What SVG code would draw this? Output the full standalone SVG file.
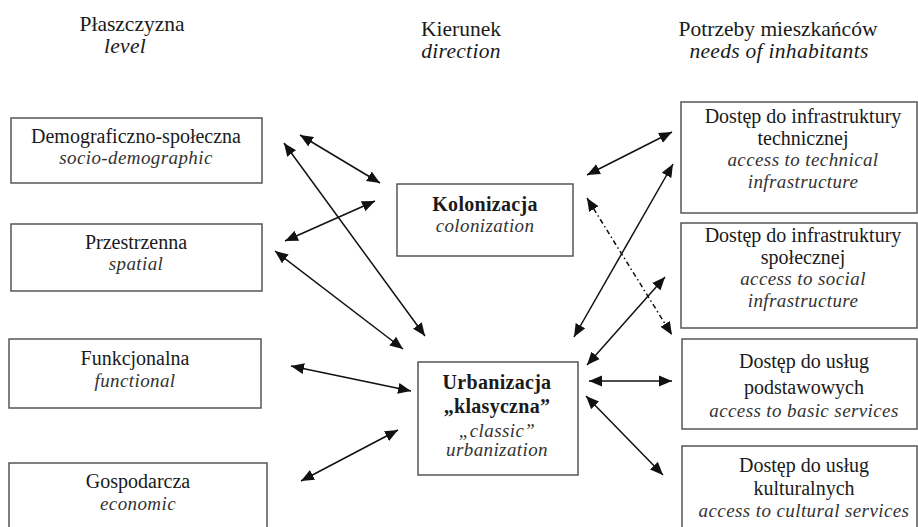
<svg xmlns="http://www.w3.org/2000/svg" width="918" height="527" viewBox="0 0 918 527">
<style>
  .box { fill: #ffffff; stroke: #555555; stroke-width: 1.5; }
  .t { font-family: "Liberation Serif", "Times New Roman", serif; font-size: 20px; fill: #1a1a1a; text-anchor: middle; }
  .i { font-family: "Liberation Serif", "Times New Roman", serif; font-size: 19px; font-style: italic; fill: #333333; text-anchor: middle; letter-spacing: 0.4px; }
  .b { font-weight: bold; letter-spacing: 0.3px; }
  .h { font-family: "Liberation Serif", "Times New Roman", serif; font-size: 21.5px; fill: #1a1a1a; text-anchor: middle; }
  .hi { font-style: italic; letter-spacing: 0.3px; }
  .c { stroke: #111111; stroke-width: 1.5; fill: none; marker-start: url(#ah); marker-end: url(#ah); }
  .dd { stroke-dasharray: 5 3 1.5 3; }
</style>
<defs>
  <marker id="ah" markerUnits="userSpaceOnUse" markerWidth="14" markerHeight="12" refX="13" refY="5.5" orient="auto-start-reverse" viewBox="0 0 14 11">
    <path d="M0,0 L13,5.5 L0,11 z" fill="#111111"/>
  </marker>
</defs>
<rect x="0" y="0" width="918" height="527" fill="#ffffff"/>

<g id="headers">
  <text class="h" x="132" y="31">Płaszczyzna</text>
  <text class="h hi" x="125" y="53">level</text>
  <text class="h" x="461" y="36">Kierunek</text>
  <text class="h hi" x="461" y="58">direction</text>
  <text class="h" x="778" y="36">Potrzeby mieszkańców</text>
  <text class="h hi" x="779" y="58">needs of inhabitants</text>
</g>

<g id="demograficzno">
  <rect class="box" x="11" y="118" width="251" height="65"/>
  <text class="t" x="136" y="143">Demograficzno-społeczna</text>
  <text class="i" x="136" y="164">socio-demographic</text>
</g>
<g id="przestrzenna">
  <rect class="box" x="11" y="224" width="251" height="67"/>
  <text class="t" x="136" y="249">Przestrzenna</text>
  <text class="i" x="136" y="270">spatial</text>
</g>
<g id="funkcjonalna">
  <rect class="box" x="9" y="339" width="252" height="69"/>
  <text class="t" x="135" y="365">Funkcjonalna</text>
  <text class="i" x="135" y="387">functional</text>
</g>
<g id="gospodarcza">
  <rect class="box" x="9" y="463" width="258" height="72"/>
  <text class="t" x="138" y="488">Gospodarcza</text>
  <text class="i" x="138" y="510">economic</text>
</g>

<g id="kolonizacja">
  <rect class="box" x="397" y="184" width="176" height="72"/>
  <text class="t b" x="485" y="210.5">Kolonizacja</text>
  <text class="i" x="485" y="231.5">colonization</text>
</g>
<g id="urbanizacja">
  <rect class="box" x="418" y="362" width="160" height="113"/>
  <text class="t b" x="497" y="389">Urbanizacja</text>
  <text class="t b" x="497" y="413">„klasyczna”</text>
  <text class="i" x="497" y="437">„classic”</text>
  <text class="i" x="497" y="456">urbanization</text>
</g>

<g id="techniczna">
  <rect class="box" x="681" y="102" width="236" height="111"/>
  <text class="t" x="803" y="123">Dostęp do infrastruktury</text>
  <text class="t" x="803" y="145">technicznej</text>
  <text class="i" x="803" y="166">access to technical</text>
  <text class="i" x="803" y="188">infrastructure</text>
</g>
<g id="spoleczna">
  <rect class="box" x="681" y="223" width="236" height="105"/>
  <text class="t" x="803" y="242">Dostęp do infrastruktury</text>
  <text class="t" x="803" y="264">społecznej</text>
  <text class="i" x="803" y="285">access to social</text>
  <text class="i" x="803" y="307">infrastructure</text>
</g>
<g id="podstawowe">
  <rect class="box" x="682" y="339" width="235" height="90"/>
  <text class="t" x="804" y="368">Dostęp do usług</text>
  <text class="t" x="804" y="394">podstawowych</text>
  <text class="i" x="804" y="417">access to basic services</text>
</g>
<g id="kulturalne">
  <rect class="box" x="682" y="446" width="235" height="90"/>
  <text class="t" x="804" y="472">Dostęp do usług</text>
  <text class="t" x="804" y="495">kulturalnych</text>
  <text class="i" x="804" y="517">access to cultural services</text>
</g>

<g id="connectors">
  <line class="c" x1="300" y1="135" x2="380" y2="183"/>
  <line class="c" x1="284" y1="143" x2="425" y2="336"/>
  <line class="c" x1="285" y1="241" x2="375" y2="201"/>
  <line class="c" x1="275" y1="251" x2="403" y2="349"/>
  <line class="c" x1="291" y1="366" x2="411" y2="391"/>
  <line class="c" x1="301" y1="481" x2="398" y2="430"/>
  <line class="c" x1="587" y1="175" x2="672" y2="132"/>
  <line class="c" x1="574" y1="337" x2="673" y2="164"/>
  <line class="c dd" x1="587" y1="198" x2="672" y2="335"/>
  <line class="c" x1="587" y1="365" x2="665" y2="277"/>
  <line class="c" x1="589" y1="381" x2="672" y2="381"/>
  <line class="c" x1="586" y1="396" x2="663" y2="475"/>
</g>
</svg>
